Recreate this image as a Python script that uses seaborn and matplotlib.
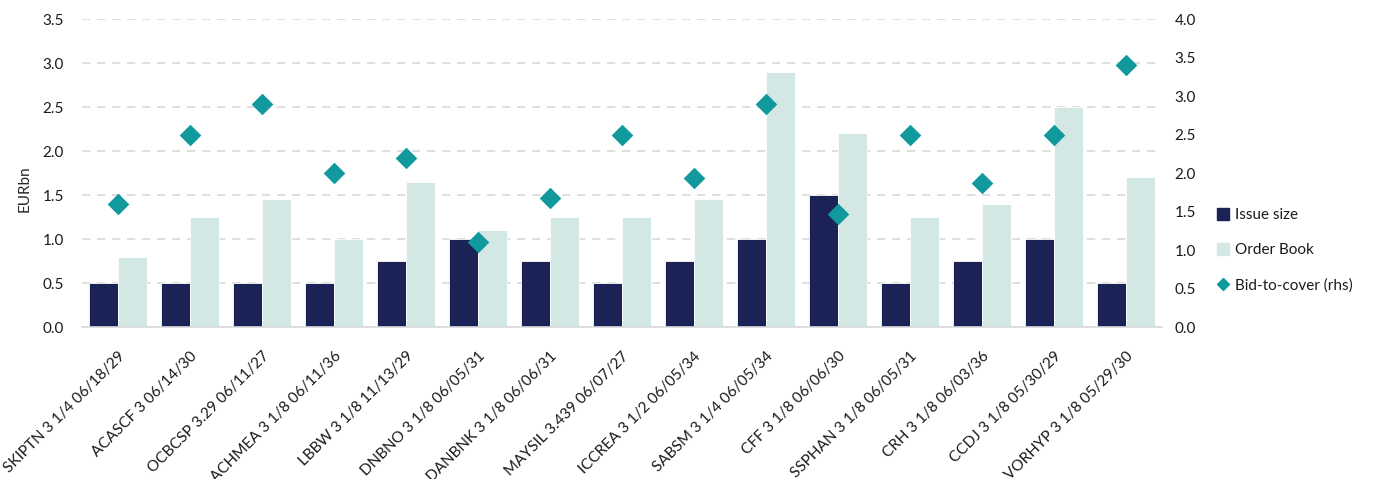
import numpy as np
import pandas as pd
import seaborn as sns
import matplotlib.pyplot as plt
from matplotlib.lines import Line2D

# data
bonds = [
    "SKIPTN 3 1/4 06/18/29", "ACASCF 3 06/14/30", "OCBCSP 3.29 06/11/27",
    "ACHMEA 3 1/8 06/11/36", "LBBW 3 1/8 11/13/29", "DNBNO 3 1/8 06/05/31",
    "DANBNK 3 1/8 06/06/31", "MAYSIL 3.439 06/07/27", "ICCREA 3 1/2 06/05/34",
    "SABSM 3 1/4 06/05/34", "CFF 3 1/8 06/06/30", "SSPHAN 3 1/8 06/05/31",
    "CRH 3 1/8 06/03/36", "CCDJ 3 1/8 05/30/29", "VORHYP 3 1/8 05/29/30",
]
issue_size = [0.5, 0.5, 0.5, 0.5, 0.75, 1.0, 0.75, 0.5, 0.75, 1.0, 1.5, 0.5, 0.75, 1.0, 0.5]
order_book = [0.8, 1.25, 1.45, 1.0, 1.65, 1.1, 1.25, 1.25, 1.45, 2.9, 2.2, 1.25, 1.4, 2.5, 1.7]
bid_to_cover = [1.6, 2.5, 2.9, 2.0, 2.2, 1.1, 1.67, 2.5, 1.93, 2.9, 1.47, 2.5, 1.87, 2.5, 3.4]

NAVY = "#1b2255"
LIGHT = "#d3e8e4"
TEAL = "#11999e"
GRID = "#d9d9d9"
TEXT = "#1a1a1a"

df = pd.DataFrame({"Bond": bonds, "Issue size": issue_size, "Order Book": order_book})
long_df = df.melt(id_vars="Bond", var_name="Series", value_name="EURbn")

sns.set_theme(style="white")
plt.rcParams["font.family"] = ["Lato", "DejaVu Sans"]
plt.rcParams["text.color"] = TEXT
plt.rcParams["xtick.color"] = TEXT
plt.rcParams["ytick.color"] = TEXT

fig = plt.figure(figsize=(13.86, 4.79), dpi=100)
ax = fig.add_axes([0.0592, 0.3173, 0.7792, 0.643])

sns.barplot(data=long_df, x="Bond", y="EURbn", hue="Series",
            palette=[NAVY, LIGHT], saturation=1, width=0.8, ax=ax,
            legend=False, edgecolor="white", linewidth=0.6)

ax.set_ylim(0, 3.5)
ax.set_yticks(np.arange(0, 3.51, 0.5))
ax.set_yticklabels([f"{v:.1f}" for v in np.arange(0, 3.51, 0.5)])
ax.yaxis.grid(True, color=GRID, linestyle=(0, (5, 4)), linewidth=1.2)
ax.set_axisbelow(True)
ax.set_xlabel("")
ax.set_ylabel("EURbn", fontsize=11, labelpad=10)
ax.yaxis.set_label_coords(-0.047, 0.45)
ax.tick_params(axis="y", length=0, pad=13, labelsize=11)
ax.tick_params(axis="x", length=0, pad=16, labelsize=11, labelrotation=45)
for lbl in ax.get_xticklabels():
    lbl.set_ha("right")
    lbl.set_va("top")
    lbl.set_rotation_mode("anchor")
for s in ["top", "left", "right"]:
    ax.spines[s].set_visible(False)
ax.spines["bottom"].set_color(GRID)
ax.spines["bottom"].set_linewidth(1.2)

# bid-to-cover on the right axis
ax2 = ax.twinx()
sns.stripplot(x=bonds, y=bid_to_cover, ax=ax2, jitter=False, marker="D",
              color=TEAL, size=11, linewidth=0, zorder=5)
ax2.set_ylim(0, 4.0)
ax2.set_yticks(np.arange(0, 4.01, 0.5))
ax2.set_yticklabels([f"{v:.1f}" for v in np.arange(0, 4.01, 0.5)])
ax2.tick_params(axis="y", length=0, pad=9, labelsize=11)
ax2.set_ylabel("")
for s in ax2.spines.values():
    s.set_visible(False)
ax.set_xlim(-0.5, len(bonds) - 0.5)

handles = [
    Line2D([], [], linestyle="none", marker="s", markersize=8, color=NAVY),
    Line2D([], [], linestyle="none", marker="s", markersize=8, color=LIGHT),
    Line2D([], [], linestyle="none", marker="D", markersize=6.5, color=TEAL),
]
fig.legend(handles, ["Issue size", "Order Book", "Bid-to-cover (rhs)"],
           loc="upper left", bbox_to_anchor=(0.868, 0.594), frameon=False,
           fontsize=11, labelspacing=1.38, handlelength=0.8, handletextpad=0.4)

fig.savefig("out.png", dpi=100)
